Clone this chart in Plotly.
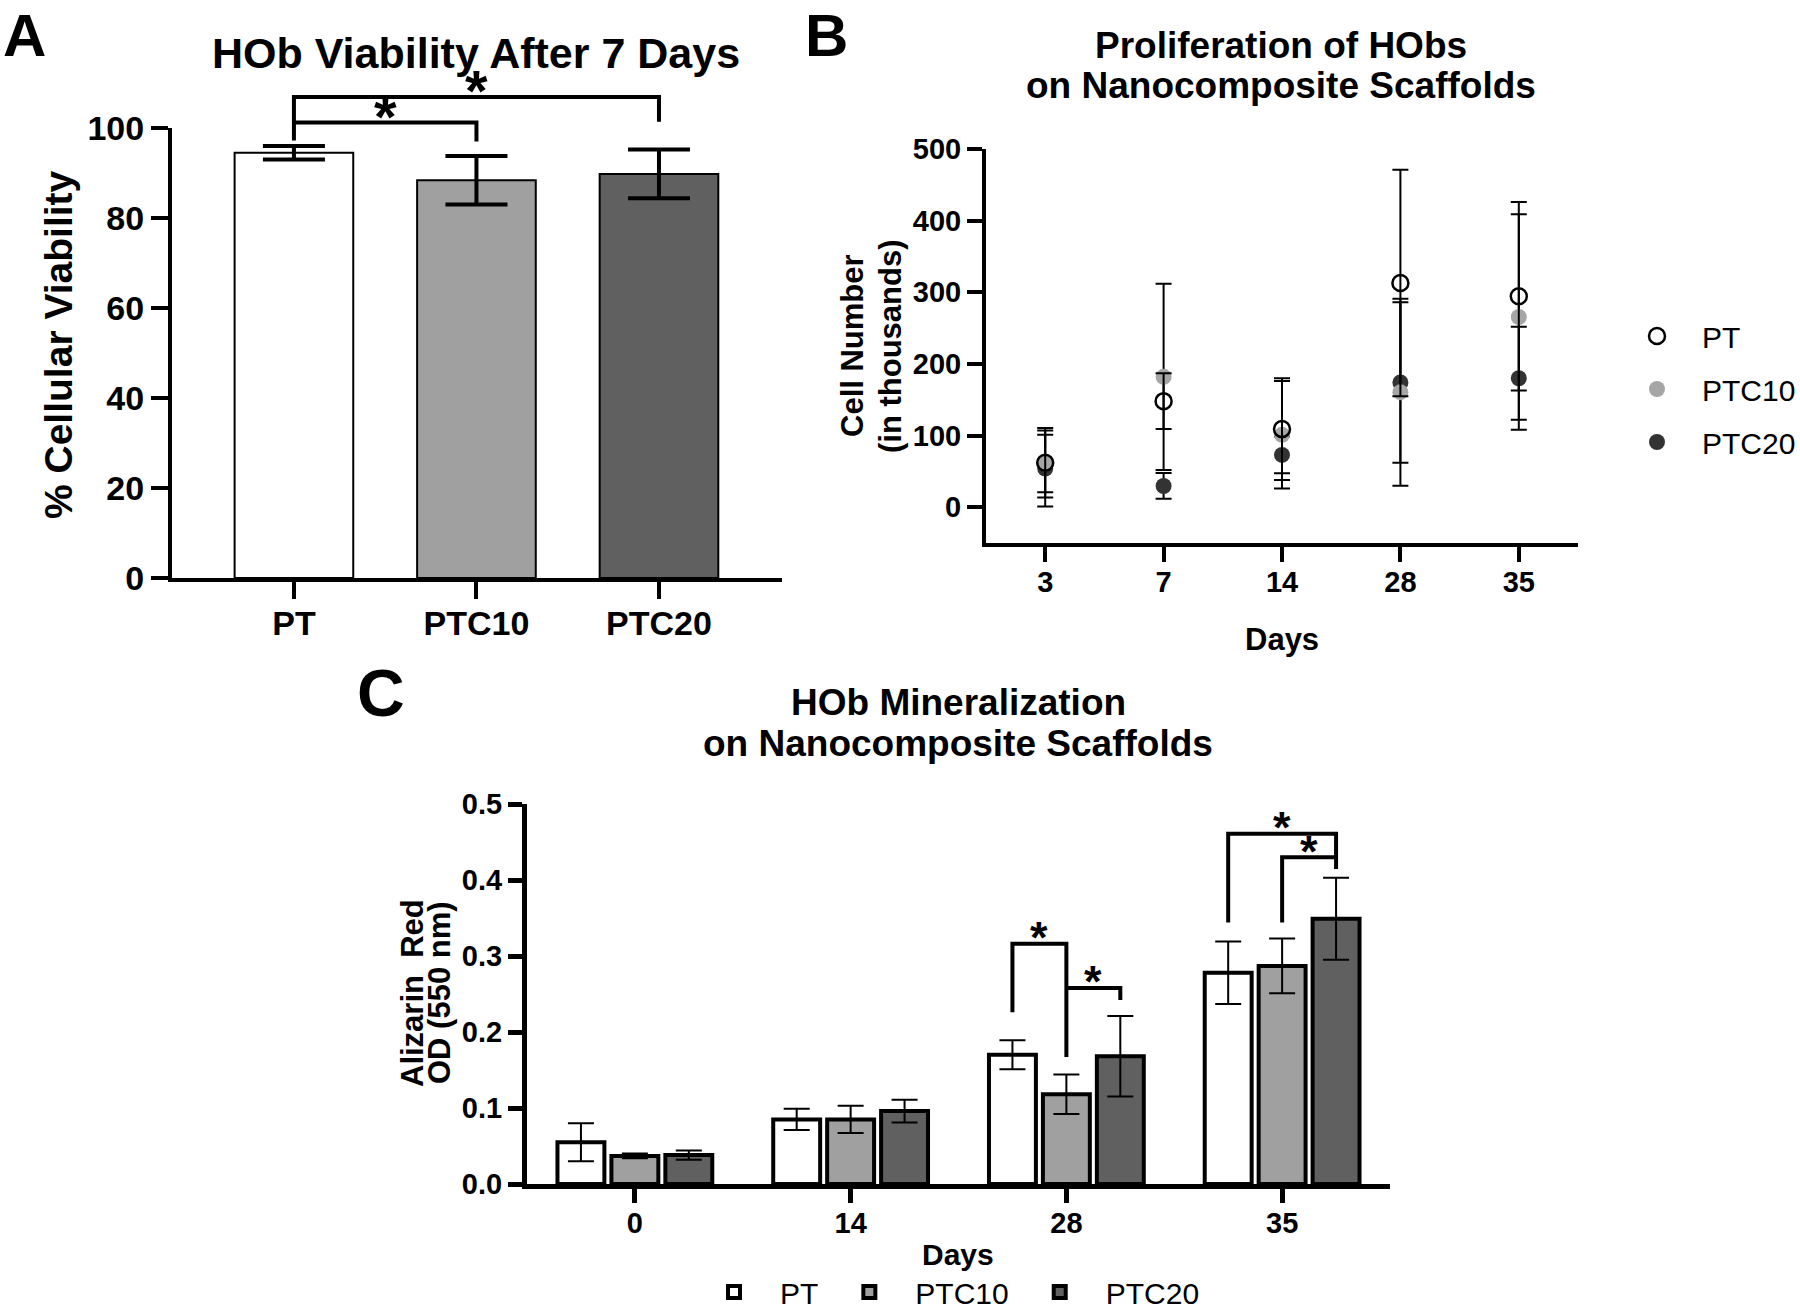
import plotly.graph_objects as go

W, H = 1800, 1310
FONT = "Liberation Sans, Arial, Helvetica, sans-serif"

# ---------------- Panel A data ----------------
groups_A = ["PT", "PTC10", "PTC20"]
viability = [94.5, 88.4, 89.8]
viability_err = [1.5, 5.4, 5.4]
colors_A = ["#ffffff", "#a0a0a0", "#606060"]
# significance brackets: (left, right, top, left_leg_bottom, right_leg_bottom)
sig_A = [
    ("PT", "PTC20", 106.9, 97.2, 101.4),
    ("PT", "PTC10", 101.2, 101.2, 97.0),
]

# ---------------- Panel B data ----------------
days_B = ["3", "7", "14", "28", "35"]
prolif_PT = [62, 148, 109, 313, 294.5]
prolif_PT_err = [48.5, 39, 71, 158, 131.5]
prolif_PTC10 = [61, 182, 101, 160.5, 265.5]
prolif_PTC10_err = [40, 130, 75, 130.5, 143.5]
prolif_PTC20 = [54, 29.6, 73, 174, 180]
prolif_PTC20_err = [53, 18, 25.6, 112, 72]

# ---------------- Panel C data ----------------
days_C = ["0", "14", "28", "35"]
mineral_PT = [0.055, 0.085, 0.170, 0.278]
mineral_PT_err = [0.025, 0.014, 0.019, 0.041]
mineral_PTC10 = [0.037, 0.085, 0.118, 0.287]
mineral_PTC10_err = [0.003, 0.018, 0.026, 0.036]
mineral_PTC20 = [0.038, 0.096, 0.168, 0.349]
mineral_PTC20_err = [0.006, 0.015, 0.053, 0.054]
# (day index, left, right, top, left_leg_bottom, right_leg_bottom)
sig_C = [
    (2, "PT", "PTC10", 0.316, 0.226, 0.167),
    (2, "PTC10", "PTC20", 0.258, 0.258, 0.242),
    (3, "PT", "PTC20", 0.461, 0.344, 0.4146),
    (3, "PTC10", "PTC20", 0.430, 0.344, 0.430),
]


def px(x):
    return x / W


def py(y):
    return 1 - y / H


fig = go.Figure()

# ---------------- Panel A ----------------
fig.add_trace(go.Bar(
    x=list(range(len(groups_A))), y=viability, width=0.65,
    marker=dict(color=colors_A, line=dict(color="black", width=2)),
    error_y=dict(type="data", array=viability_err, color="black", thickness=4, width=31),
    xaxis="x", yaxis="y", showlegend=False, hoverinfo="skip",
))

# ---------------- Panel B ----------------
series_B = [
    ("PTC20", prolif_PTC20, prolif_PTC20_err, dict(symbol="circle", color="#333333", size=16), 3),
    ("PTC10", prolif_PTC10, prolif_PTC10_err, dict(symbol="circle", color="#a6a6a6", size=16), 2),
    ("PT", prolif_PT, prolif_PT_err, dict(symbol="circle-open", color="black", size=16, line=dict(width=2.5)), 1),
]
for name, ys, errs, mk, rank in series_B:
    fig.add_trace(go.Scatter(
        x=list(range(len(days_B))), y=ys, mode="markers", name=name,
        marker=mk,
        error_y=dict(type="data", array=errs, color="black", thickness=2, width=8),
        xaxis="x2", yaxis="y2", legend="legend", legendgroup=name, legendrank=rank,
    ))

# ---------------- Panel C ----------------
bw = 0.2175
offsets_C = {"PT": -0.25, "PTC10": 0.0, "PTC20": 0.25}
series_C = [
    ("PT", mineral_PT, mineral_PT_err, "#ffffff"),
    ("PTC10", mineral_PTC10, mineral_PTC10_err, "#a0a0a0"),
    ("PTC20", mineral_PTC20, mineral_PTC20_err, "#606060"),
]
for name, ys, errs, col in series_C:
    fig.add_trace(go.Bar(
        x=list(range(len(days_C))), y=ys, name=name,
        width=bw, offset=offsets_C[name] - bw / 2,
        marker=dict(color=col, line=dict(color="black", width=4)),
        error_y=dict(type="data", array=errs, color="black", thickness=2, width=13),
        xaxis="x3", yaxis="y3", legend="legend2",
    ))

# ---------------- Axes ----------------
def axis(**kw):
    base = dict(showline=True, linecolor="black", ticks="outside", tickcolor="black",
                showgrid=False, zeroline=False, fixedrange=True, automargin=False)
    base.update(kw)
    return base


bold = dict(family=FONT, color="black", weight="bold")

fig.update_layout(
    xaxis=axis(domain=[px(172), px(782)], range=[-0.668, 2.674], anchor="y",
               tickvals=list(range(len(groups_A))), ticktext=groups_A, ticklabelstandoff=-5,
               linewidth=4, ticklen=17, tickwidth=4, tickfont=dict(size=34, **bold)),
    yaxis=axis(domain=[py(578), py(128)], range=[0, 100], anchor="x",
               tickvals=[0, 20, 40, 60, 80, 100],
               linewidth=4, ticklen=17, tickwidth=4, tickfont=dict(size=34, **bold)),
    xaxis2=axis(domain=[px(986), px(1578)], range=[-0.5, 4.5], anchor="y2",
                tickvals=list(range(len(days_B))), ticktext=days_B, ticklabelstandoff=-5,
                linewidth=4, ticklen=15, tickwidth=4, tickfont=dict(size=29, **bold)),
    yaxis2=axis(domain=[py(543), py(149)], range=[-50, 500], anchor="x2",
                tickvals=[0, 100, 200, 300, 400, 500],
                linewidth=4, ticklen=15, tickwidth=4, tickfont=dict(size=29, **bold)),
    xaxis3=axis(domain=[px(527), px(1390)], range=[-0.5, 3.5], anchor="y3",
                tickvals=list(range(len(days_C))), ticktext=days_C, ticklabelstandoff=-5,
                linewidth=5, ticklen=14, tickwidth=5, tickfont=dict(size=29, **bold)),
    yaxis3=axis(domain=[py(1184), py(804)], range=[0, 0.5], anchor="x3",
                tickvals=[0, 0.1, 0.2, 0.3, 0.4, 0.5], tickformat=".1f",
                linewidth=5, ticklen=14, tickwidth=5, tickfont=dict(size=29, **bold)),
)

# ---------------- Significance brackets ----------------
shapes = []
annotations = []
ya_rng = fig.layout.yaxis.range


def frac_A(v):
    return (v - ya_rng[0]) / (ya_rng[1] - ya_rng[0])


for left, right, top, lb, rb in sig_A:
    xl, xr = groups_A.index(left), groups_A.index(right)
    shapes.append(dict(type="path", xref="x", yref="y domain",
                       path=f"M {xl},{frac_A(lb)} L {xl},{frac_A(top)} L {xr},{frac_A(top)} L {xr},{frac_A(rb)}",
                       line=dict(color="black", width=4)))
    annotations.append(dict(x=(xl + xr) / 2, y=frac_A(top), xref="x", yref="y domain",
                            text="*", showarrow=False, xanchor="center", yanchor="middle",
                            yshift=6, font=dict(size=58, **bold)))

for d, left, right, top, lb, rb in sig_C:
    xl, xr = d + offsets_C[left], d + offsets_C[right]
    shapes.append(dict(type="path", xref="x3", yref="y3",
                       path=f"M {xl},{lb} L {xl},{top} L {xr},{top} L {xr},{rb}",
                       line=dict(color="black", width=4)))
    annotations.append(dict(x=(xl + xr) / 2, y=top, xref="x3", yref="y3",
                            text="*", showarrow=False, xanchor="center", yanchor="middle",
                            yshift=6, font=dict(size=45, **bold)))


def label(text, x, y, size, weight="bold", angle=0, yanchor="middle"):
    annotations.append(dict(text=text, x=px(x), y=py(y), xref="paper", yref="paper",
                            showarrow=False, xanchor="center", yanchor=yanchor, textangle=angle,
                            font=dict(family=FONT, color="black", size=size, weight=weight)))


# panel letters
label("A", 24, 0, 60, yanchor="top")
label("B", 826, 0, 60, yanchor="top")
label("C", 381, 693, 66)
# titles
label("HOb Viability After 7 Days", 476, 53, 43)
label("Proliferation of HObs", 1281, 45, 37)
label("on Nanocomposite Scaffolds", 1281, 86, 37)
label("HOb Mineralization", 958, 702, 37)
label("on Nanocomposite Scaffolds", 958, 743, 37)
# axis titles
label("% Cellular Viability", 59, 345, 39, angle=-90)
label("Cell Number", 853, 346, 31, angle=-90)
label("(in thousands)", 891, 346, 31, angle=-90)
label("Days", 1282, 640, 31)
label("Alizarin\u00a0 Red", 412, 993, 31, angle=-90)
label("OD (550 nm)", 439, 993, 31, angle=-90)
label("Days", 958, 1254, 30)

fig.update_layout(
    width=W, height=H, autosize=False,
    margin=dict(l=0, r=0, t=0, b=0, autoexpand=False),
    paper_bgcolor="white", plot_bgcolor="white",
    font=dict(family=FONT, color="black"),
    barmode="group",
    shapes=shapes, annotations=annotations,
    legend=dict(x=px(1612), xanchor="left", y=py(310), yanchor="top",
                orientation="v", itemwidth=80, tracegroupgap=11,
                traceorder="grouped", bgcolor="rgba(0,0,0,0)",
                font=dict(family=FONT, size=30, color="black")),
    legend2=dict(x=px(688), xanchor="left", y=py(1292), yanchor="middle",
                 orientation="h", itemwidth=82, bgcolor="rgba(0,0,0,0)",
                 font=dict(family=FONT, size=30, color="black")),
)

fig.write_html("out.html",
               config={"displayModeBar": False},
               post_script="document.body.style.margin='0';document.body.style.overflow='hidden';")
